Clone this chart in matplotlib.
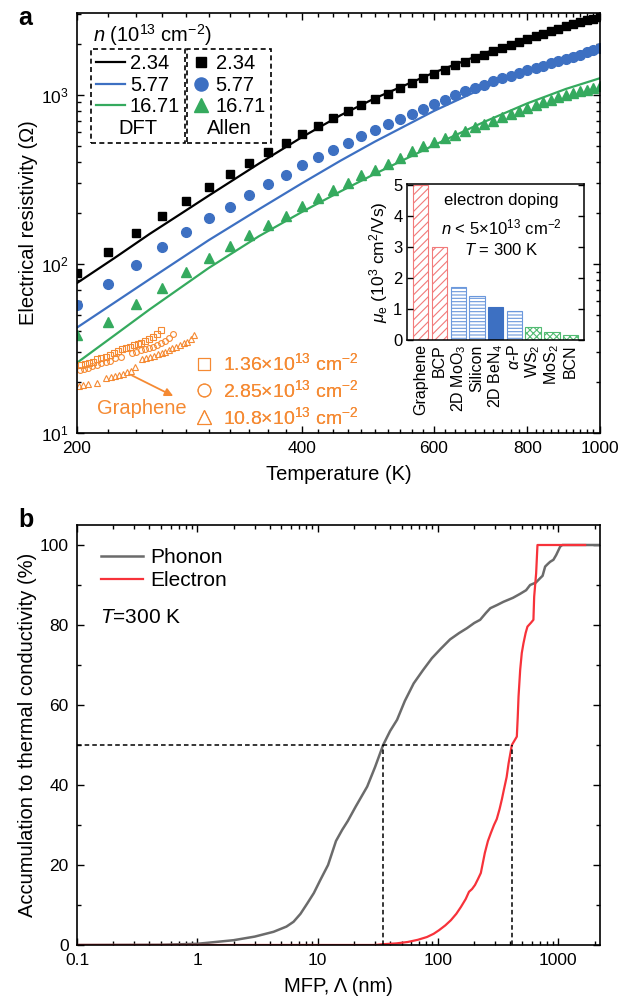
import numpy as np
import matplotlib
matplotlib.use("Agg")
import matplotlib.pyplot as plt
from matplotlib.ticker import FixedLocator, NullFormatter, MultipleLocator

plt.rcParams['font.family'] = ['Liberation Sans', 'DejaVu Sans']
plt.rcParams['mathtext.fontset'] = 'custom'
plt.rcParams['mathtext.rm'] = 'Liberation Sans'
plt.rcParams['mathtext.it'] = 'Liberation Sans:italic'
plt.rcParams['mathtext.bf'] = 'Liberation Sans:bold'
plt.rcParams['hatch.linewidth'] = 0.8

# ---------------- data, panel a ----------------
T_dft = [200, 225, 250, 275, 300, 350, 400, 450, 500, 600, 700, 800, 900, 1000]
rho_dft_234 = [77, 109, 150, 197, 253, 391, 562, 755, 951, 1350, 1755, 2158, 2551, 2926]
rho_dft_577 = [42, 59.4, 81, 107, 138, 210, 300, 407, 527, 801, 1099, 1398, 1677, 1934]
rho_dft_1671 = [26, 38.1, 53.7, 72.2, 94.5, 145.5, 203, 268, 340, 503, 690, 889, 1080, 1251]

T_allen = [200, 220, 240, 260, 280, 300, 320, 340, 360, 380, 400, 420, 440, 460,
           480, 500, 520, 540, 560, 580, 600, 620, 640, 660, 680, 700, 720, 740,
           760, 780, 800, 820, 840, 860, 880, 900, 920, 940, 960, 980, 1000]
rho_allen_234 = [88, 117, 152, 191, 236, 284, 340, 395, 456, 518, 585, 656, 728, 797,
                 873, 947, 1013, 1096, 1173, 1250, 1331, 1406, 1491, 1562, 1648, 1724,
                 1804, 1889, 1967, 2050, 2145, 2213, 2296, 2370, 2448, 2538, 2608, 2680,
                 2754, 2818, 2884]
rho_allen_577 = [57, 76, 98, 125, 154, 186, 218, 256, 297, 336, 382, 428, 473, 518,
                 572, 620, 671, 721, 772, 827, 881, 934, 990, 1046, 1096, 1147, 1200,
                 1249, 1295, 1343, 1400, 1438, 1485, 1540, 1575, 1627, 1672, 1724, 1780,
                 1828, 1897]
rho_allen_1671 = [38, 45, 58, 72, 89, 108, 128, 149, 170, 193, 221, 245, 274, 300,
                  333, 360, 391, 422, 462, 495, 525, 554, 580, 607, 644, 674, 702, 738,
                  769, 804, 834, 865, 900, 934, 964, 990, 1023, 1046, 1071, 1096, 1120]

# graphene (experiment)
T_gr_sq = [202.5, 205, 207.5, 210.2, 213, 215.6, 218.4, 221.5, 224.3, 227.2, 229.9,
           232.7, 235.7, 238, 241, 243.8, 246.9, 249.8, 252.8, 255.8, 258.9]
rho_gr_sq = [25.2, 25.6, 26.1, 26.4, 27.3, 27.7, 28.0, 28.9, 29.9, 30.6, 31.3,
             31.7, 32.3, 32.9, 33.5, 34.2, 35.0, 35.8, 36.8, 38.4, 40.6]
T_gr_ci = [201.9, 204.5, 207, 209.6, 212.7, 215.6, 218.4, 221.5, 224.8, 228.8, 236.7,
           240, 243.8, 246.9, 249.8, 252.8, 255.8, 258.9, 262.4, 265.7, 269.1]
rho_gr_ci = [23.6, 23.9, 24.3, 24.9, 25.2, 25.8, 26.2, 26.8, 27.7, 28.3, 29.9,
             30.3, 30.8, 31.3, 31.7, 32.4, 33.2, 34.0, 35.2, 36.6, 38.4]
T_gr_tr = [201.2, 203.9, 207, 213, 218.9, 222.1, 224.8, 227.6, 230.5, 233.2, 235.9,
           238.9, 244.6, 247.4, 250.4, 253.5, 256.3, 259.4, 262.3, 265.4, 268.3,
           271.3, 274.5, 277.8, 280.8, 283.8, 287.1]
rho_gr_tr = [19.0, 19.2, 19.5, 19.8, 21.1, 21.4, 21.7, 22.0, 22.3, 22.9, 23.3,
             24.7, 27.3, 27.7, 28.2, 28.7, 29.3, 29.9, 30.3, 31.0, 31.7,
             32.4, 33.2, 34.0, 34.7, 36.0, 37.7]

# inset: mobility
materials = ['Graphene', 'BCP', '2D MoO$_3$', 'Silicon', '2D BeN$_4$', r'$\alpha$-P',
             'WS$_2$', 'MoS$_2$', 'BCN']
mobility = [5.0, 3.0, 1.7, 1.41, 1.06, 0.93, 0.42, 0.27, 0.17]

# ---------------- data, panel b ----------------
phonon_mfp = [0.1, 0.5, 1, 2, 3, 4.3, 5.5, 6.3, 7.2, 8.2, 9.3, 10.5, 12.2, 14.2, 16,
              17.8, 20.7, 25.8, 30, 35, 40, 45.7, 53, 62.8, 75, 89, 105, 126, 150, 174,
              200, 224, 250, 272, 310, 350, 420, 482, 540, 583, 650, 706, 740, 777, 820,
              855, 910, 960, 1036, 1080, 2300]
phonon_acc = [0, 0.05, 0.3, 1.2, 2.1, 3.3, 4.6, 5.8, 7.8, 10.4, 13, 16.2, 20, 26, 28.8,
              31, 34.6, 39.6, 44.5, 50, 53.5, 56.3, 61, 65.4, 68.7, 71.7, 74, 76.4, 78,
              79.2, 80.5, 81.3, 83, 84.2, 85, 85.8, 86.8, 87.8, 88.7, 90, 90.6, 91.7,
              92.3, 94.6, 95.3, 95.8, 96.3, 97.5, 99.6, 100, 100]
elec_mfp = [0.1, 30, 35, 45, 56, 68, 81, 92, 102, 115, 128, 142, 155, 170, 181, 192, 203,
            215, 227, 245, 260, 275, 292, 308, 325, 340, 351, 372, 386, 411, 430, 452,
            460, 467, 482, 497, 513, 535, 554, 590, 621, 630, 654, 671, 1670]
elec_acc = [0, 0, 0.2, 0.4, 0.75, 1.3, 2.0, 2.8, 3.7, 4.9, 6.2, 7.8, 9.5, 11.5, 13.3, 14,
            15, 16.5, 18, 23, 26, 28, 30, 31.5, 34, 36.5, 38.5, 42, 45.4, 50, 51, 52.1,
            57, 62.1, 68.8, 73, 75.4, 78, 79.6, 80.5, 81.3, 87.1, 92.9, 100, 100]
mfp_50_phonon = 35
mfp_50_elec = 411

# colours
c_blue = '#3d70c2'
c_green = '#35aa5e'
c_orange = '#f58a33'
c_gray = '#6b6b6b'
c_red = '#f7323a'

fig = plt.figure(figsize=(6.19, 10.05), dpi=100)
ax1 = fig.add_axes([77/619, 1-433/1005, 523/619, 420.3/1005])
ax2 = fig.add_axes([77/619, 1-945/1005, 523/619, 420/1005])
axin = fig.add_axes([407.3/619, 1-340/1005, 176.4/619, 156/1005])

# ================ panel a ================
ldft1, = ax1.plot(T_dft, rho_dft_234, color='k', lw=1.6)
ldft2, = ax1.plot(T_dft, rho_dft_577, color=c_blue, lw=1.6)
ldft3, = ax1.plot(T_dft, rho_dft_1671, color=c_green, lw=1.6)
la1, = ax1.plot(T_allen, rho_allen_234, ls='none', marker='s', ms=5.8, color='k')
la2, = ax1.plot(T_allen, rho_allen_577, ls='none', marker='o', ms=7, color=c_blue)
la3, = ax1.plot(T_allen, rho_allen_1671, ls='none', marker='^', ms=7.5, color=c_green)

g1, = ax1.plot(T_gr_sq, rho_gr_sq, ls='none', marker='s', ms=4.2, mfc='none',
               mec=c_orange, mew=0.8)
g2, = ax1.plot(T_gr_ci, rho_gr_ci, ls='none', marker='o', ms=4.2, mfc='none',
               mec=c_orange, mew=0.8)
g3, = ax1.plot(T_gr_tr, rho_gr_tr, ls='none', marker='^', ms=4.5, mfc='none',
               mec=c_orange, mew=0.8)

ax1.set_xscale('log')
ax1.set_yscale('log')
ax1.set_xlim(200, 1000)
ax1.set_ylim(10, 3050)
ax1.xaxis.set_major_locator(FixedLocator([200, 400, 600, 800, 1000]))
ax1.set_xticklabels(['200', '400', '600', '800', '1000'])
ax1.xaxis.set_minor_locator(FixedLocator(np.arange(220, 1000, 20)))
ax1.xaxis.set_minor_formatter(NullFormatter())
ax1.set_xlabel('Temperature (K)', fontsize=14.5, labelpad=6)
ax1.set_ylabel('Electrical resistivity (\u03a9)', fontsize=14.5, labelpad=2)

for ax in (ax1, ax2):
    ax.tick_params(which='both', direction='in', top=True, right=True, labelsize=12.5,
                   width=1.0, pad=6)
    ax.tick_params(which='major', length=5)
    ax.tick_params(which='minor', length=3)
    for s in ax.spines.values():
        s.set_linewidth(1.2)

# legends with dashed boxes, title at bottom
def boxed_legend(ax, handles, labels, title, anchor, hl, ms_scale):
    leg = ax.legend(handles, labels, title=title, loc='upper left',
                    bbox_to_anchor=anchor, borderaxespad=0, frameon=True,
                    fancybox=False, framealpha=1, edgecolor='k', fontsize=14.5,
                    title_fontsize=14.5, handlelength=hl, handletextpad=0.25,
                    labelspacing=0.12, borderpad=0.25, numpoints=1,
                    markerscale=ms_scale)
    fr = leg.get_frame()
    fr.set_linestyle((0, (3, 2)))
    fr.set_linewidth(1.2)
    box = leg._legend_box
    box._children = box._children[::-1]
    ax.add_artist(leg)
    return leg

boxed_legend(ax1, [ldft1, ldft2, ldft3], ['2.34', '5.77', '16.71'], 'DFT',
             (0.026, 0.913), 1.45, 1.0)
boxed_legend(ax1, [la1, la2, la3], ['2.34', '5.77', '16.71'], 'Allen',
             (0.211, 0.913), 0.9, 1.35)
ax1.text(0.03, 0.947, '$n$ (10$^{13}$ cm$^{-2}$)', transform=ax1.transAxes,
         fontsize=14.5, va='center', ha='left')

# graphene legend
gleg = ax1.legend([g1, g2, g3],
                  ['1.36\u00d710$^{13}$ cm$^{-2}$', '2.85\u00d710$^{13}$ cm$^{-2}$',
                   '10.8\u00d710$^{13}$ cm$^{-2}$'],
                  loc='upper left', bbox_to_anchor=(0.21, 0.21), borderaxespad=0,
                  frameon=False, fontsize=14, labelcolor=c_orange, markerscale=2.2,
                  handlelength=1.0, handletextpad=0.45, labelspacing=0.25, numpoints=1)
ax1.add_artist(gleg)
ax1.text(0.123, 0.0585, 'Graphene', transform=ax1.transAxes, fontsize=14.5,
         color=c_orange, ha='center', va='center')
ax1.annotate('', xy=(0.184, 0.088), xycoords='axes fraction',
             xytext=(0.105, 0.137), textcoords='axes fraction',
             arrowprops=dict(arrowstyle='-|>', color=c_orange, lw=1.3,
                             mutation_scale=12, shrinkA=0, shrinkB=0))

fig.text(18/619, 1-18/1005, 'a', fontsize=18, fontweight='bold', ha='left', va='center')
fig.text(18/619, 1-520/1005, 'b', fontsize=18, fontweight='bold', ha='left', va='center')

# ---------------- inset ----------------
xpos = np.arange(len(materials))
bar_edge = ['#f27a7a', '#f27a7a', '#6b98dc', '#6b98dc', c_blue, '#6b98dc',
            '#52bb72', '#52bb72', '#52bb72']
bar_hatch = ['////', '////', '-----', '-----', None, '-----', 'xxxxx', 'xxxxx', 'xxxxx']
for i in range(len(materials)):
    if bar_hatch[i] is None:
        axin.bar(xpos[i], mobility[i], width=0.82, color=bar_edge[i],
                 edgecolor=bar_edge[i], lw=0.8)
    else:
        axin.bar(xpos[i], mobility[i], width=0.82, fill=False,
                 edgecolor=bar_edge[i], hatch=bar_hatch[i], lw=0.8)
axin.set_xlim(-0.72, 8.7)
axin.set_ylim(0, 5.03)
axin.set_xticks(xpos)
axin.set_xticklabels(materials, rotation=90, fontsize=11.5)
axin.set_yticks([0, 1, 2, 3, 4, 5])
axin.tick_params(axis='y', direction='in', right=True, labelsize=12, length=4, width=1.0)
axin.tick_params(axis='x', length=0, pad=3)
axin.set_ylabel('$\\mu_\\mathrm{e}$ (10$^3$ cm$^2$/Vs)', fontsize=12.5, labelpad=2)
for s in axin.spines.values():
    s.set_linewidth(1.1)
axin.text(0.535, 0.897, 'electron doping', transform=axin.transAxes, fontsize=12,
          ha='center', va='center')
axin.text(0.535, 0.724, '$n$ < 5\u00d710$^{13}$ cm$^{-2}$', transform=axin.transAxes,
          fontsize=12, ha='center', va='center')
axin.text(0.535, 0.577, '$T$ = 300 K', transform=axin.transAxes, fontsize=12,
          ha='center', va='center')

# ================ panel b ================
ax2.plot(phonon_mfp, phonon_acc, color=c_gray, lw=1.8, label='Phonon')
ax2.plot(elec_mfp, elec_acc, color=c_red, lw=1.6, label='Electron')
ax2.plot([0.1, mfp_50_elec], [50, 50], color='k', ls=(0, (3, 2)), lw=1.1)
ax2.plot([mfp_50_phonon, mfp_50_phonon], [0, 50], color='k', ls=(0, (3, 2)), lw=1.1)
ax2.plot([mfp_50_elec, mfp_50_elec], [0, 50], color='k', ls=(0, (3, 2)), lw=1.1)
ax2.set_xscale('log')
ax2.set_xlim(0.1, 2220)
ax2.set_ylim(0, 105)
ax2.set_xticks([0.1, 1, 10, 100, 1000])
ax2.set_xticklabels(['0.1', '1', '10', '100', '1000'])
ax2.set_yticks([0, 20, 40, 60, 80, 100])
ax2.yaxis.set_minor_locator(MultipleLocator(10))
ax2.set_xlabel('MFP, \u039b (nm)', fontsize=14.5, labelpad=6)
ax2.set_ylabel('Accumulation to thermal conductivity (%)', fontsize=14.5, labelpad=2)
ax2.legend(loc='upper left', bbox_to_anchor=(0.03, 0.965), borderaxespad=0,
           frameon=False, fontsize=15, handlelength=2.0, handletextpad=0.35,
           labelspacing=0.2)
ax2.text(0.044, 0.779, '$T$=300 K', transform=ax2.transAxes, fontsize=15,
         ha='left', va='center')

fig.savefig('out.png', dpi=100)
